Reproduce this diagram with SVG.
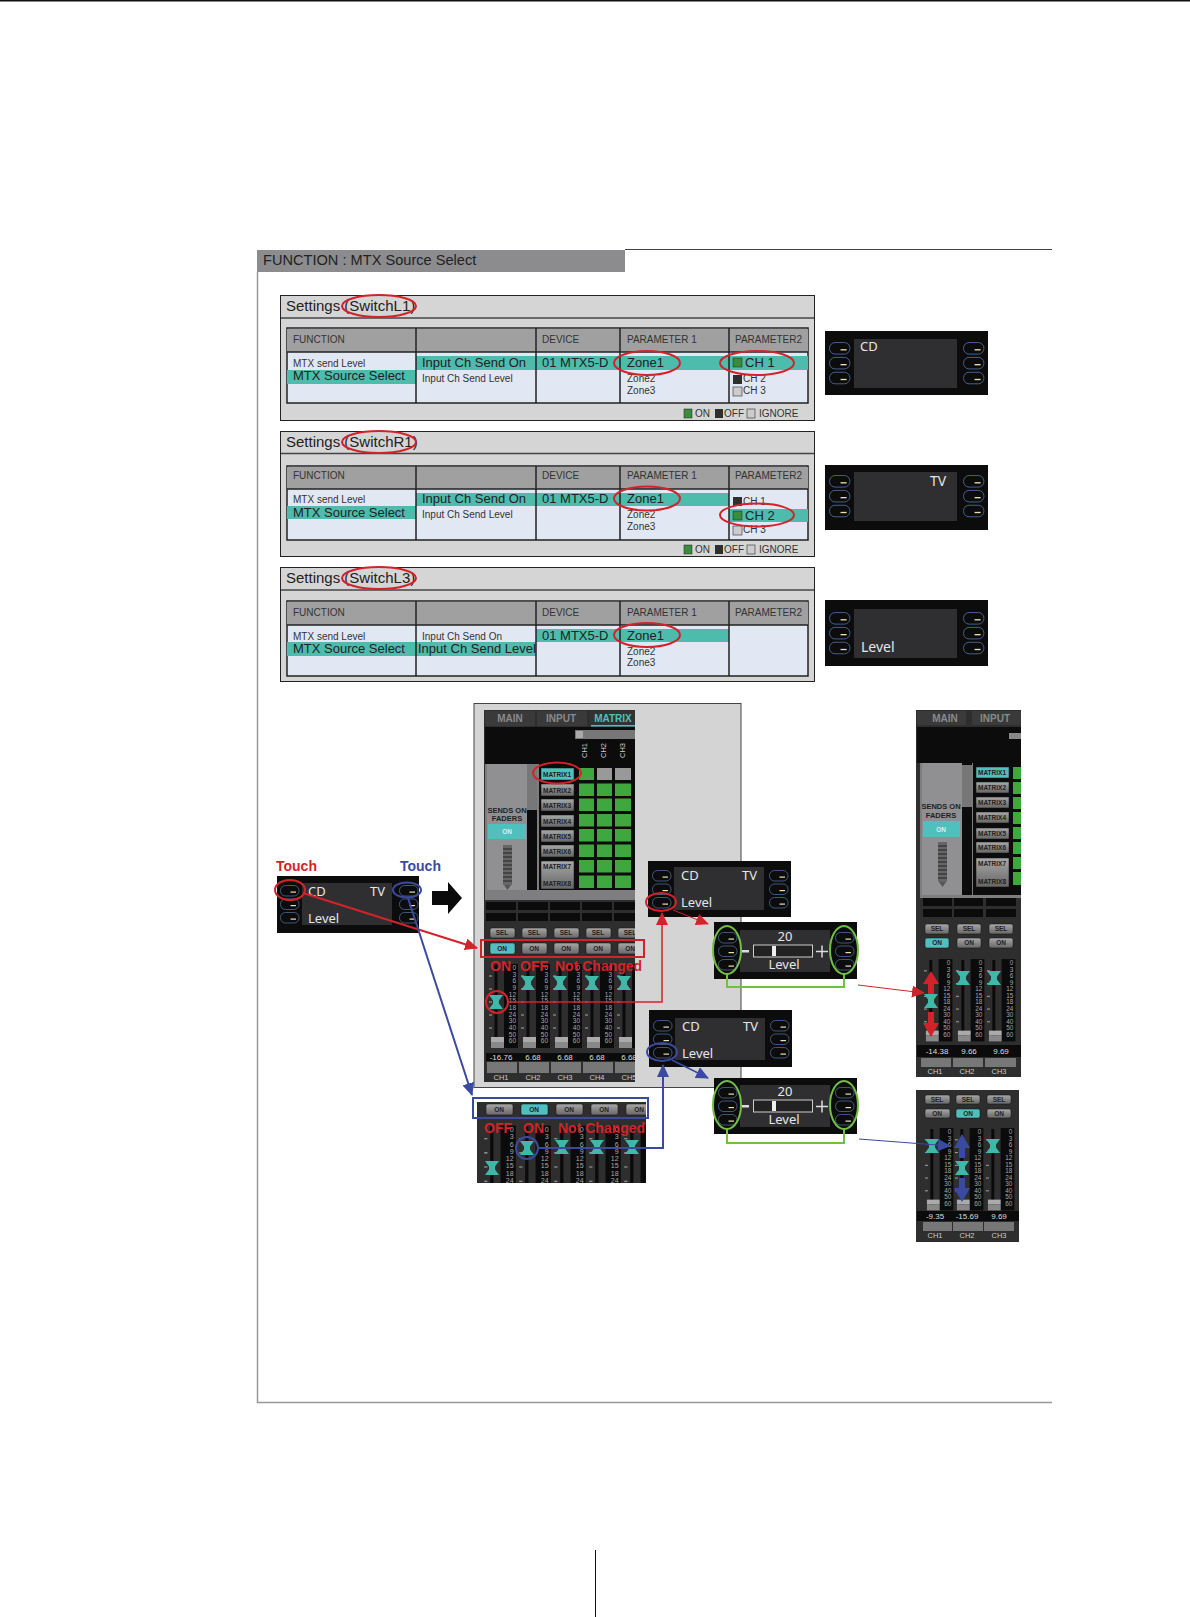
<svg xmlns="http://www.w3.org/2000/svg" xmlns:xlink="http://www.w3.org/1999/xlink" width="1190" height="1617" viewBox="0 0 1190 1617">
<style>
text{font-family:"Liberation Sans",Arial,sans-serif;fill:#222}
.panel{fill:#d5d5d5;stroke:#222;stroke-width:1}
.band{fill:none;stroke:#444;stroke-width:1.5}
.tbl{fill:#e1e8f4;stroke:#222;stroke-width:1.5}
.hd{fill:#a0a0a0}
.col{stroke:#222;stroke-width:1.5}
.teal{fill:#4dbcad}
.h{font-size:10px;fill:#333}
.s{font-size:10px;fill:#333}
.b{font-size:13px;fill:#222}
.t{font-size:15px;fill:#222}
.oval{fill:none;stroke:#d2232a;stroke-width:2}
.ovalb{fill:none;stroke:#3a4aa0;stroke-width:2}
.ovalg{fill:none;stroke:#72bf44;stroke-width:2}
.scr{fill:#0c0c0c}
.inn{fill:#2f2f31}
.st{font-family:"Noto Sans","Liberation Sans",sans-serif;fill:#e6e6e6;font-size:13px}
.mx{fill:#2e2e2e}
.tab{font-size:10px;fill:#8a8a8a;font-weight:bold;text-anchor:middle}
.bt{font-size:6.5px;font-weight:bold;fill:#222;text-anchor:middle}
.gb{fill:url(#gb);stroke:#111;stroke-width:.5}
.tb{fill:#4fc0bd;stroke:#111;stroke-width:.5}
.lab{font-size:14px;font-weight:bold;fill:#d2232a}
.val{font-size:8px;fill:#ddd;text-anchor:middle}
.ch{font-size:7.5px;fill:#ccc;text-anchor:middle}
.gr{fill:#3ea83e}
.cr{fill:none;stroke:#d2232a}
.cb{fill:none;stroke:#3a4aa0}
.cg{fill:none;stroke:#72bf44;stroke-width:2}
</style>
<defs>
<linearGradient id="gb" x1="0" y1="0" x2="0" y2="1"><stop offset="0" stop-color="#a8a8a8"/><stop offset="1" stop-color="#666"/></linearGradient>
<marker id="ar" markerUnits="userSpaceOnUse" markerWidth="14" markerHeight="12" refX="12" refY="6" orient="auto"><path d="M0,0L13,6L0,12Z" fill="#d2232a"/></marker>
<marker id="ab" markerUnits="userSpaceOnUse" markerWidth="14" markerHeight="12" refX="12" refY="6" orient="auto"><path d="M0,0L13,6L0,12Z" fill="#3a4aa0"/></marker>
<g id="btn"><rect x=".5" y=".5" width="18.500" height="10.500" rx="5" fill="none" stroke="#4d6b98" stroke-width=".8"/><rect x="10.500" y="6.500" width="5.500" height="1.200" fill="#e8e2b0"/></g>
<g id="keys"><use href="#btn"/><use href="#btn" y="13.500"/><use href="#btn" y="27"/></g>
<g id="scale"><text style="font-size:6.5px;fill:#a8a8a8" text-anchor="end"><tspan x="29" y="2">0</tspan><tspan x="29" y="8.700">3</tspan><tspan x="29" y="15.300">6</tspan><tspan x="29" y="22">9</tspan><tspan x="29" y="28.700">12</tspan><tspan x="29" y="35.300">15</tspan><tspan x="29" y="42">18</tspan><tspan x="29" y="48.700">24</tspan><tspan x="29" y="55.300">30</tspan><tspan x="29" y="62">40</tspan><tspan x="29" y="68.700">50</tspan><tspan x="29" y="75.300">60</tspan></text></g>
<g id="chan"><rect x="17" y="-4" width="14" height="84" fill="#0b0b0b"/><rect x="7.500" y="-3" width="3" height="82" fill="#0a0a0a"/><path d="M2,8h3M2,21h3M2,34h3M2,47h3M2,60h3" stroke="#aaa"/><use href="#scale"/><rect x="4" y="69" width="13" height="5" fill="#aaa"/><rect x="4" y="74" width="13" height="6" fill="#888"/></g>
<path id="fad" d="M-7,-7H7L3,-1.500V1.500L7,7H-7L-3,1.500V-1.500Z" fill="#3fb8aa"/>
<g id="ladder"><rect x="0" y="0" width="9" height="40" fill="#666"/><path d="M0,4h9M0,8h9M0,12h9M0,16h9M0,20h9M0,24h9M0,28h9M0,32h9M0,36h9" stroke="#222"/><path d="M1,40h7l-3.500,5z" fill="#555"/></g>
<clipPath id="c1"><rect x="484" y="710" width="151" height="372"/></clipPath>
<clipPath id="c2"><rect x="477" y="1102" width="169" height="81"/></clipPath>
<clipPath id="c3"><rect x="916" y="710" width="105" height="367"/></clipPath>
<clipPath id="c4"><rect x="916" y="1090" width="103" height="152"/></clipPath>
</defs>
<rect width="1190" height="1617" fill="#fff"/>
<rect x="0" y="0" width="1190" height="1.500" fill="#111"/>
<rect x="595" y="1550" width="1" height="67" fill="#111"/>
<g id="page">
<path d="M625,249.500H1052" stroke="#444" fill="none"/>
<path d="M257.500,272V1402.500H1052" stroke="#999" stroke-width="1.500" fill="none"/>
<rect x="257" y="250" width="368" height="22" fill="#8c8c8e"/>
<text x="263" y="265" style="font-size:14.600px">FUNCTION : MTX Source Select</text>
</g>
<g id="settings-l1">
<rect class="panel" x="280.500" y="295.500" width="534" height="125"/><path class="band" d="M281,318H814"/>
<rect class="tbl" x="287" y="328" width="521" height="75"/><rect class="hd" x="287" y="329" width="521" height="23"/>
<rect class="teal" x="416" y="356" width="392" height="14"/><rect class="teal" x="287" y="370" width="129" height="14"/>
<path class="col" d="M287,352H808M416,328V403M536,328V403M620,328V403M729,328V403"/>
<text class="h" x="293" y="343">FUNCTION</text><text class="h" x="542" y="343">DEVICE</text><text class="h" x="627" y="343">PARAMETER 1</text><text class="h" x="735" y="343">PARAMETER2</text>
<text class="t" x="286" y="311">Settings (SwitchL1)</text>
<text class="s" x="293" y="367">MTX send Level</text><text class="b" x="293" y="380">MTX Source Select</text>
<text class="b" x="422" y="367">Input Ch Send On</text><text class="s" x="422" y="382">Input Ch Send Level</text>
<text class="b" x="542" y="367">01 MTX5-D</text><text class="b" x="627" y="367">Zone1</text><text class="s" x="627" y="382">Zone2</text><text class="s" x="627" y="394">Zone3</text>
<rect x="733" y="358" width="9" height="9" fill="#3c8a3c" stroke="#222" stroke-width=".5"/><text class="b" x="745" y="367">CH 1</text>
<rect x="733" y="375" width="9" height="9" fill="#2f2f2f"/><text class="s" x="743" y="382">CH 2</text>
<rect x="733" y="387" width="9" height="9" fill="#ccc" stroke="#444" stroke-width=".7"/><text class="s" x="743" y="394">CH 3</text>
<rect x="684" y="409" width="8" height="9" fill="#3c8a3c" stroke="#222" stroke-width=".5"/><text class="s" x="695" y="417">ON</text><rect x="715" y="409" width="8" height="9" fill="#2f2f2f"/><text class="s" x="724" y="417">OFF</text><rect x="747" y="409" width="8" height="9" fill="#ccc" stroke="#444" stroke-width=".7"/><text class="s" x="759" y="417">IGNORE</text>
<ellipse class="oval" cx="379" cy="306" rx="37" ry="11"/><ellipse class="oval" cx="647" cy="363" rx="33" ry="12"/><ellipse class="oval" cx="757" cy="363" rx="37" ry="12"/>
</g>
<g id="settings-r1">
<rect class="panel" x="280.500" y="431.500" width="534" height="125"/><path class="band" d="M281,453.500H814"/>
<rect class="tbl" x="287" y="466" width="521" height="74"/><rect class="hd" x="287" y="467" width="521" height="22"/>
<rect class="teal" x="416" y="493" width="313" height="13"/><rect class="teal" x="287" y="506" width="129" height="13"/><rect class="teal" x="729" y="509" width="79" height="13"/>
<path class="col" d="M287,489H808M416,466V540M536,466V540M620,466V540M729,466V540"/>
<text class="h" x="293" y="479">FUNCTION</text><text class="h" x="542" y="479">DEVICE</text><text class="h" x="627" y="479">PARAMETER 1</text><text class="h" x="735" y="479">PARAMETER2</text>
<text class="t" x="286" y="447">Settings (SwitchR1)</text>
<text class="s" x="293" y="503">MTX send Level</text><text class="b" x="293" y="517">MTX Source Select</text>
<text class="b" x="422" y="503">Input Ch Send On</text><text class="s" x="422" y="518">Input Ch Send Level</text>
<text class="b" x="542" y="503">01 MTX5-D</text><text class="b" x="627" y="503">Zone1</text><text class="s" x="627" y="518">Zone2</text><text class="s" x="627" y="530">Zone3</text>
<rect x="733" y="497" width="9" height="9" fill="#2f2f2f"/><text class="s" x="743" y="505">CH 1</text>
<rect x="733" y="511" width="9" height="9" fill="#3c8a3c" stroke="#222" stroke-width=".5"/><text class="b" x="745" y="520">CH 2</text>
<rect x="733" y="526" width="9" height="9" fill="#ccc" stroke="#444" stroke-width=".7"/><text class="s" x="743" y="533">CH 3</text>
<rect x="684" y="545" width="8" height="9" fill="#3c8a3c" stroke="#222" stroke-width=".5"/><text class="s" x="695" y="553">ON</text><rect x="715" y="545" width="8" height="9" fill="#2f2f2f"/><text class="s" x="724" y="553">OFF</text><rect x="747" y="545" width="8" height="9" fill="#ccc" stroke="#444" stroke-width=".7"/><text class="s" x="759" y="553">IGNORE</text>
<ellipse class="oval" cx="379" cy="442" rx="37" ry="11"/><ellipse class="oval" cx="647" cy="498.500" rx="33" ry="12"/><ellipse class="oval" cx="757" cy="515" rx="37" ry="11.500"/>
</g>
<g id="settings-l3">
<rect class="panel" x="280.500" y="567.500" width="534" height="114"/><path class="band" d="M281,590H814"/>
<rect class="tbl" x="287" y="601" width="521" height="75"/><rect class="hd" x="287" y="602" width="521" height="23"/>
<rect class="teal" x="536" y="629" width="193" height="13"/><rect class="teal" x="287" y="642" width="249" height="14"/>
<path class="col" d="M287,625H808M416,601V676M536,601V676M620,601V676M729,601V676"/>
<text class="h" x="293" y="616">FUNCTION</text><text class="h" x="542" y="616">DEVICE</text><text class="h" x="627" y="616">PARAMETER 1</text><text class="h" x="735" y="616">PARAMETER2</text>
<text class="t" x="286" y="583">Settings (SwitchL3)</text>
<text class="s" x="293" y="640">MTX send Level</text><text class="b" x="293" y="653">MTX Source Select</text>
<text class="s" x="422" y="640">Input Ch Send On</text><text class="b" x="418" y="653">Input Ch Send Level</text>
<text class="b" x="542" y="640">01 MTX5-D</text><text class="b" x="627" y="640">Zone1</text><text class="s" x="627" y="655">Zone2</text><text class="s" x="627" y="666">Zone3</text>
<ellipse class="oval" cx="379" cy="578" rx="37" ry="11"/><ellipse class="oval" cx="647" cy="635" rx="33" ry="12"/>
</g>
<g id="screen-cd"><rect class="scr" x="825" y="331" width="163" height="64"/><rect class="inn" x="854" y="339" width="103" height="49"/><use href="#keys" transform="translate(829,342) scale(1.100)"/><use href="#keys" transform="translate(963,342) scale(1.100)"/><text class="st" x="860" y="351">CD</text></g>
<g id="screen-tv"><rect class="scr" x="825" y="465" width="163" height="65"/><rect class="inn" x="854" y="472" width="103" height="49"/><use href="#keys" transform="translate(829,475) scale(1.100)"/><use href="#keys" transform="translate(963,475) scale(1.100)"/><text class="st" x="930" y="486" style="font-size:14px">TV</text></g>
<g id="screen-level"><rect class="scr" x="825" y="600" width="163" height="66"/><rect class="inn" x="854" y="609" width="103" height="49"/><use href="#keys" transform="translate(829,612) scale(1.100)"/><use href="#keys" transform="translate(963,612) scale(1.100)"/><text class="st" x="861" y="652" style="font-size:14px">Level</text></g>
<g id="main-panel"><rect x="474" y="703.500" width="267" height="384" fill="#d4d4d4" stroke="#444"/></g>
<g id="mixer-main" clip-path="url(#c1)">
<rect class="mx" x="484" y="710" width="151" height="372"/>
<rect x="485" y="711" width="50" height="15" fill="#3a3a3a"/><rect x="537" y="711" width="50" height="15" fill="#3a3a3a"/><rect x="590" y="711" width="45" height="15" fill="#333"/><rect x="591" y="725" width="44" height="1.500" fill="#4fc0bd"/>
<text class="tab" x="510" y="722">MAIN</text><text class="tab" x="561" y="722">INPUT</text><text class="tab" x="613" y="722" style="fill:#4fc0bd">MATRIX</text>
<rect x="485" y="727" width="150" height="37" fill="#0c0c0c"/><rect x="575" y="730" width="60" height="9" fill="#777"/><rect x="576" y="731" width="7" height="7" fill="#aaa"/>
<g transform="rotate(-90 587 758)"><text class="ch" x="587" y="758" style="text-anchor:start">CH1</text></g><g transform="rotate(-90 606 758)"><text class="ch" x="606" y="758" style="text-anchor:start">CH2</text></g><g transform="rotate(-90 625 758)"><text class="ch" x="625" y="758" style="text-anchor:start">CH3</text></g>
<rect x="485" y="764" width="150" height="136" fill="#7e7e80"/>
<rect x="487" y="764" width="40" height="126" fill="#909092"/>
<text class="bt" x="507" y="813" style="font-size:7.500px">SENDS ON</text><text class="bt" x="507" y="821" style="font-size:7.500px">FADERS</text>
<rect x="488" y="824" width="38" height="15" fill="#4fc0bd"/><text class="bt" x="507" y="834" style="fill:#d8f0ee">ON</text>
<use href="#ladder" x="503" y="845"/>
<rect x="527" y="764" width="10" height="126" fill="#0c0c0c"/><rect x="527" y="764" width="10" height="46" fill="#777"/>
<rect x="539" y="764" width="96" height="126" fill="#0c0c0c"/>
<rect x="541" y="768" width="33" height="12" class="tb"/><text class="bt" x="557" y="777">MATRIX1</text>
<rect x="541" y="784" width="33" height="12" class="gb"/><text class="bt" x="557" y="793">MATRIX2</text>
<rect x="541" y="799" width="33" height="12" class="gb"/><text class="bt" x="557" y="808">MATRIX3</text>
<rect x="541" y="815" width="33" height="12" class="gb"/><text class="bt" x="557" y="824">MATRIX4</text>
<rect x="541" y="830" width="33" height="12" class="gb"/><text class="bt" x="557" y="839">MATRIX5</text>
<rect x="541" y="845" width="33" height="12" class="gb"/><text class="bt" x="557" y="854">MATRIX6</text>
<rect x="541" y="861" width="33" height="28" class="gb"/><text class="bt" x="557" y="869">MATRIX7</text><text class="bt" x="557" y="886">MATRIX8</text>
<rect class="gr" x="579" y="768" width="15" height="12"/><rect x="597" y="768" width="15" height="12" fill="#999"/><rect x="615" y="768" width="16" height="12" fill="#999"/>
<path class="gr" d="M579,783.500h15v12.500h-15zM597,783.500h15v12.500h-15zM615,783.500h16v12.500h-16zM579,798.500h15v12.500h-15zM597,798.500h15v12.500h-15zM615,798.500h16v12.500h-16zM579,814h15v12.500h-15zM597,814h15v12.500h-15zM615,814h16v12.500h-16zM579,829h15v12.500h-15zM597,829h15v12.500h-15zM615,829h16v12.500h-16zM579,844.500h15v12.500h-15zM597,844.500h15v12.500h-15zM615,844.500h16v12.500h-16zM579,860h15v12.500h-15zM597,860h15v12.500h-15zM615,860h16v12.500h-16zM579,875.500h15v12.500h-15zM597,875.500h15v12.500h-15zM615,875.500h16v12.500h-16z"/>
<path d="M486,902h30v8h-30zM518,902h30v8h-30zM550,902h30v8h-30zM582,902h30v8h-30zM614,902h30v8h-30zM486,913h30v8h-30zM518,913h30v8h-30zM550,913h30v8h-30zM582,913h30v8h-30zM614,913h30v8h-30z" fill="#0b0b0b"/>
<rect class="gb" x="490" y="928" width="25" height="10" rx="2"/><rect class="gb" x="522" y="928" width="25" height="10" rx="2"/><rect class="gb" x="554" y="928" width="25" height="10" rx="2"/><rect class="gb" x="586" y="928" width="25" height="10" rx="2"/><rect class="gb" x="618" y="928" width="25" height="10" rx="2"/>
<text class="bt" x="502" y="935">SEL</text><text class="bt" x="534" y="935">SEL</text><text class="bt" x="566" y="935">SEL</text><text class="bt" x="598" y="935">SEL</text><text class="bt" x="630" y="935">SEL</text>
<rect class="tb" x="490" y="943" width="25" height="11" rx="2"/><rect class="gb" x="522" y="943" width="25" height="11" rx="2"/><rect class="gb" x="554" y="943" width="25" height="11" rx="2"/><rect class="gb" x="586" y="943" width="25" height="11" rx="2"/><rect class="gb" x="618" y="943" width="25" height="11" rx="2"/>
<text class="bt" x="502" y="951">ON</text><text class="bt" x="534" y="951">ON</text><text class="bt" x="566" y="951">ON</text><text class="bt" x="598" y="951">ON</text><text class="bt" x="630" y="951">ON</text>
<use href="#chan" transform="translate(487,968)"/><use href="#chan" transform="translate(519,968)"/><use href="#chan" transform="translate(551,968)"/><use href="#chan" transform="translate(583,968)"/><use href="#chan" transform="translate(615,968)"/>
<use href="#fad" x="496" y="1002"/><use href="#fad" x="528" y="983"/><use href="#fad" x="560" y="983"/><use href="#fad" x="592" y="983"/><use href="#fad" x="624" y="983"/>
<rect x="486" y="1053" width="150" height="8" fill="#0b0b0b"/>
<text class="val" x="501" y="1060">-16.76</text><text class="val" x="533" y="1060">6.68</text><text class="val" x="565" y="1060">6.68</text><text class="val" x="597" y="1060">6.68</text><text class="val" x="629" y="1060">6.68</text>
<path d="M487,1062h30v11h-30zM519,1062h30v11h-30zM551,1062h30v11h-30zM583,1062h30v11h-30zM615,1062h30v11h-30z" fill="#777"/>
<text class="ch" x="501" y="1080">CH1</text><text class="ch" x="533" y="1080">CH2</text><text class="ch" x="565" y="1080">CH3</text><text class="ch" x="597" y="1080">CH4</text><text class="ch" x="629" y="1080">CH5</text>
</g>
<g id="mixer-main-labels">
<rect x="481" y="940" width="163" height="17" fill="none" stroke="#d2232a" stroke-width="2"/>
<text class="lab" x="490" y="971">ON</text><text class="lab" x="520" y="971">OFF</text><text class="lab" x="555" y="971">Not Changed</text>
<circle cx="497" cy="1002" r="11" class="oval"/>
<ellipse class="oval" cx="557" cy="773" rx="24" ry="10.500"/>
</g>
<g id="mixer-second">
<g clip-path="url(#c2)">
<rect class="mx" x="477" y="1102" width="169" height="81"/>
<use href="#chan" transform="translate(482,1130) scale(1.090)"/><use href="#chan" transform="translate(517,1130) scale(1.090)"/><use href="#chan" transform="translate(552,1130) scale(1.090)"/><use href="#chan" transform="translate(587,1130) scale(1.090)"/><use href="#chan" transform="translate(622,1130) scale(1.090)"/>
<use href="#fad" x="492" y="1168"/><use href="#fad" x="527" y="1148"/><use href="#fad" x="562" y="1147"/><use href="#fad" x="597" y="1147"/><use href="#fad" x="632" y="1147"/>
<rect class="gb" x="486" y="1104" width="27" height="11" rx="2"/><rect class="tb" x="521" y="1104" width="27" height="11" rx="2"/><rect class="gb" x="556" y="1104" width="27" height="11" rx="2"/><rect class="gb" x="591" y="1104" width="27" height="11" rx="2"/><rect class="gb" x="626" y="1104" width="27" height="11" rx="2"/>
<text class="bt" x="499" y="1112">ON</text><text class="bt" x="534" y="1112">ON</text><text class="bt" x="569" y="1112">ON</text><text class="bt" x="604" y="1112">ON</text><text class="bt" x="639" y="1112">ON</text>
</g>
<rect x="473" y="1098" width="175" height="20" fill="none" stroke="#3a4aa0" stroke-width="2"/>
<text class="lab" x="484" y="1133">OFF</text><text class="lab" x="523" y="1133">ON</text><text class="lab" x="558" y="1133">Not Changed</text>
<circle cx="527" cy="1148" r="11" class="ovalb"/>
</g>
<g id="mixer-right-top" clip-path="url(#c3)">
<rect class="mx" x="916" y="710" width="105" height="367"/>
<rect x="917" y="711" width="49" height="14" fill="#3a3a3a"/><rect x="972" y="711" width="49" height="14" fill="#3a3a3a"/>
<text class="tab" x="945" y="722">MAIN</text><text class="tab" x="995" y="722">INPUT</text>
<rect x="917" y="727" width="104" height="36" fill="#0c0c0c"/><rect x="1009" y="733" width="12" height="6" fill="#888"/>
<rect x="920" y="763" width="101" height="135" fill="#7e7e80"/><rect x="922" y="763" width="40" height="132" fill="#909092"/>
<text class="bt" x="941" y="809" style="font-size:7.500px">SENDS ON</text><text class="bt" x="941" y="818" style="font-size:7.500px">FADERS</text>
<rect x="923" y="821" width="37" height="16" fill="#4fc0bd"/><text class="bt" x="941" y="832" style="fill:#d8f0ee">ON</text>
<use href="#ladder" x="938" y="842"/>
<rect x="962" y="763" width="10" height="132" fill="#0c0c0c"/><rect x="962" y="765" width="10" height="42" fill="#777"/>
<rect x="973" y="763" width="48" height="132" fill="#0c0c0c"/>
<rect class="tb" x="976" y="767" width="33" height="11"/><text class="bt" x="992" y="775">MATRIX1</text>
<rect class="gb" x="976" y="782" width="33" height="11"/><text class="bt" x="992" y="790">MATRIX2</text>
<rect class="gb" x="976" y="797" width="33" height="11"/><text class="bt" x="992" y="805">MATRIX3</text>
<rect class="gb" x="976" y="812" width="33" height="11"/><text class="bt" x="992" y="820">MATRIX4</text>
<rect class="gb" x="976" y="828" width="33" height="11"/><text class="bt" x="992" y="836">MATRIX5</text>
<rect class="gb" x="976" y="842" width="33" height="11"/><text class="bt" x="992" y="850">MATRIX6</text>
<rect class="gb" x="976" y="858" width="33" height="29" /><text class="bt" x="992" y="866">MATRIX7</text><text class="bt" x="992" y="884">MATRIX8</text>
<path class="gr" d="M1013,767h8v12h-8zM1013,782h8v12h-8zM1013,797h8v12h-8zM1013,812h8v12h-8zM1013,827h8v12h-8zM1013,842h8v12h-8zM1013,857h8v12h-8zM1013,872h8v13h-8z"/>
<path d="M923,898h29v8h-29zM954,898h29v8h-29zM986,898h30v8h-30zM923,909h29v8h-29zM954,909h29v8h-29zM986,909h30v8h-30z" fill="#0b0b0b"/>
<rect class="gb" x="925" y="924" width="24" height="10" rx="2"/><rect class="gb" x="957" y="924" width="24" height="10" rx="2"/><rect class="gb" x="989" y="924" width="24" height="10" rx="2"/>
<text class="bt" x="937" y="931">SEL</text><text class="bt" x="969" y="931">SEL</text><text class="bt" x="1001" y="931">SEL</text>
<rect class="tb" x="925" y="938" width="24" height="10" rx="2"/><rect class="gb" x="957" y="938" width="24" height="10" rx="2"/><rect class="gb" x="989" y="938" width="24" height="10" rx="2"/>
<text class="bt" x="937" y="945">ON</text><text class="bt" x="969" y="945">ON</text><text class="bt" x="1001" y="945">ON</text>
<use href="#chan" transform="translate(922,963) scale(.980)"/><use href="#chan" transform="translate(954,963) scale(.980)"/><use href="#chan" transform="translate(985,963) scale(.980)"/>
<use href="#fad" x="931" y="1001"/><use href="#fad" x="963" y="978"/><use href="#fad" x="994" y="978"/>
<rect x="917" y="1045" width="104" height="12" fill="#0b0b0b"/>
<text class="val" x="937" y="1054">-14.38</text><text class="val" x="969" y="1054">9.66</text><text class="val" x="1001" y="1054">9.69</text>
<path d="M921,1058h30v9h-30zM953,1058h30v9h-30zM985,1058h31v9h-31z" fill="#777"/>
<text class="ch" x="935" y="1074">CH1</text><text class="ch" x="967" y="1074">CH2</text><text class="ch" x="999" y="1074">CH3</text>
</g>
<g id="mixer-right-bottom" clip-path="url(#c4)">
<rect class="mx" x="916" y="1090" width="103" height="152"/>
<rect class="gb" x="925" y="1095" width="25" height="9" rx="2"/><rect class="gb" x="956" y="1095" width="24" height="9" rx="2"/><rect class="gb" x="987" y="1095" width="24" height="9" rx="2"/>
<text class="bt" x="937" y="1102">SEL</text><text class="bt" x="968" y="1102">SEL</text><text class="bt" x="999" y="1102">SEL</text>
<rect class="gb" x="925" y="1109" width="25" height="9" rx="2"/><rect class="tb" x="956" y="1109" width="24" height="9" rx="2"/><rect class="gb" x="987" y="1109" width="24" height="9" rx="2"/>
<text class="bt" x="937" y="1116">ON</text><text class="bt" x="968" y="1116">ON</text><text class="bt" x="999" y="1116">ON</text>
<use href="#chan" transform="translate(923,1132) scale(.980)"/><use href="#chan" transform="translate(953,1132) scale(.980)"/><use href="#chan" transform="translate(984,1132) scale(.980)"/>
<use href="#fad" x="932" y="1146"/><use href="#fad" x="962" y="1168"/><use href="#fad" x="993" y="1146"/>
<rect x="917" y="1211" width="102" height="10" fill="#0b0b0b"/>
<text class="val" x="935" y="1219">-9.35</text><text class="val" x="967" y="1219">-15.69</text><text class="val" x="999" y="1219">9.69</text>
<path d="M923,1222h29v9h-29zM953,1222h30v9h-30zM984,1222h30v9h-30z" fill="#777"/>
<text class="ch" x="935" y="1238">CH1</text><text class="ch" x="967" y="1238">CH2</text><text class="ch" x="999" y="1238">CH3</text>
</g>
<g id="touch-screen">
<text class="lab" x="276" y="871" style="fill:#d2232a">Touch</text><text class="lab" x="400" y="871" style="fill:#3a4aa0">Touch</text>
<rect class="scr" x="277" y="876" width="142" height="57"/><rect class="inn" x="302" y="883" width="90" height="42"/>
<use href="#keys" x="280" y="885"/><use href="#keys" x="399" y="885"/>
<text class="st" x="308" y="896">CD</text><text class="st" x="370" y="896">TV</text><text class="st" x="308" y="923">Level</text>
<ellipse class="oval" cx="290" cy="890" rx="15" ry="10"/><ellipse class="ovalb" cx="407" cy="890" rx="14" ry="7.500"/>
</g>
<path id="big-arrow" d="M432,891H448V882L462,898L448,914V905H432Z" fill="#0a0a0a"/>
<g id="screen-a">
<rect class="scr" x="648" y="861" width="143" height="56"/><rect class="inn" x="674" y="867" width="90" height="43"/>
<use href="#keys" x="652" y="870"/><use href="#keys" x="769" y="870"/>
<text class="st" x="681" y="880">CD</text><text class="st" x="742" y="880">TV</text><text class="st" x="681" y="907">Level</text>
<ellipse class="oval" cx="661" cy="902" rx="15" ry="9"/>
</g>
<g id="screen-b">
<rect class="scr" x="649" y="1010" width="143" height="57"/><rect class="inn" x="675" y="1018" width="90" height="42"/>
<use href="#keys" x="653" y="1020"/><use href="#keys" x="770" y="1020"/>
<text class="st" x="682" y="1031">CD</text><text class="st" x="743" y="1031">TV</text><text class="st" x="682" y="1058">Level</text>
<ellipse class="ovalb" cx="662" cy="1052" rx="15" ry="9"/>
</g>
<g id="level-a">
<rect class="scr" x="714" y="922" width="143" height="57"/><rect class="inn" x="740" y="930" width="90" height="42"/>
<use href="#keys" x="718" y="932"/><use href="#keys" x="835" y="932"/>
<rect x="742" y="950" width="7" height="2.500" fill="#ddd"/><rect x="753.500" y="945" width="59" height="12" fill="#222" stroke="#ccc"/><rect x="772" y="946" width="4" height="10" fill="#eee"/>
<path d="M816,951.500h12M822,945.500v12" stroke="#ddd" stroke-width="1.500"/>
<text class="st" x="785" y="941" text-anchor="middle">20</text><text class="st" x="784" y="969" text-anchor="middle">Level</text>
<ellipse class="ovalg" cx="727" cy="950" rx="14" ry="24"/><ellipse class="ovalg" cx="844" cy="950" rx="14" ry="24"/>
</g>
<g id="level-b">
<rect class="scr" x="714" y="1078" width="143" height="56"/><rect class="inn" x="740" y="1085" width="90" height="42"/>
<use href="#keys" x="718" y="1087"/><use href="#keys" x="835" y="1087"/>
<rect x="742" y="1105" width="7" height="2.500" fill="#ddd"/><rect x="753.500" y="1100" width="59" height="12" fill="#222" stroke="#ccc"/><rect x="772" y="1101" width="4" height="10" fill="#eee"/>
<path d="M816,1106.500h12M822,1100.500v12" stroke="#ddd" stroke-width="1.500"/>
<text class="st" x="785" y="1096" text-anchor="middle">20</text><text class="st" x="784" y="1124" text-anchor="middle">Level</text>
<ellipse class="ovalg" cx="727" cy="1105" rx="14" ry="24"/><ellipse class="ovalg" cx="844" cy="1105" rx="14" ry="24"/>
</g>
<g id="connectors">
<path class="cr" stroke-width="2" marker-end="url(#ar)" d="M303,893L477,948"/>
<path class="cb" stroke-width="2" marker-end="url(#ab)" d="M408,898L472,1095"/>
<path class="cr" stroke-width="1.500" marker-end="url(#ar)" d="M508,1002H662V913"/>
<path class="cr" stroke-width="1" marker-end="url(#ar)" d="M673,910L708,924"/>
<path class="cb" stroke-width="2" marker-end="url(#ab)" d="M538,1148H663V1065"/>
<path class="cb" stroke-width="1.500" marker-end="url(#ab)" d="M672,1060L708,1078"/>
<path class="cg" d="M727,974V987H844V974"/>
<path class="cg" d="M727,1129V1143H844V1129"/>
<path class="cr" stroke-width="1" marker-end="url(#ar)" d="M858,985L924,993"/>
<path class="cb" stroke-width="1" marker-end="url(#ab)" d="M859,1139L950,1146"/>
<path d="M931,971l-8,13h5v10h6v-10h5zM931,1037l-8,-14h5v-11h6v11h5z" fill="#d2232a"/>
<path d="M962,1134l-8,14h5v10h6v-10h5zM962,1202l-8,-14h5v-10h6v10h5z" fill="#3a4aa0"/>
</g>
</svg>
